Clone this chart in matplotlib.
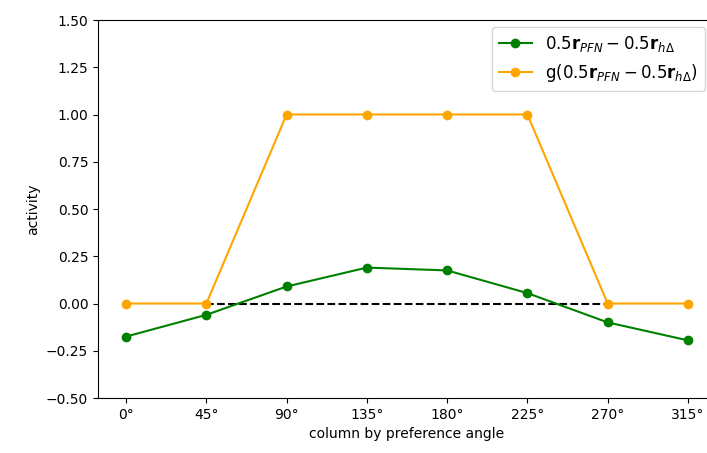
import numpy as np
import matplotlib
matplotlib.use("Agg")
import matplotlib.pyplot as plt

angles = ['0°', '45°', '90°', '135°', '180°', '225°', '270°', '315°']
diff = [-0.175, -0.06, 0.09, 0.19, 0.175, 0.055, -0.10, -0.195]
gdiff = [0, 0, 1, 1, 1, 1, 0, 0]

fig = plt.figure(figsize=(7.07, 4.53), dpi=100)
ax = fig.add_axes([98 / 707, 1 - 398 / 453, (716 - 98) / 707, (398 - 20) / 453])

x = np.arange(len(angles))
ax.plot(x[1:7], np.zeros(6), 'k--')
ax.plot(x, diff, 'o-', color='green', label=r'$0.5\mathbf{r}_{PFN} - 0.5\mathbf{r}_{h\Delta}$')
ax.plot(x, gdiff, 'o-', color='orange', label=r'g($0.5\mathbf{r}_{PFN} - 0.5\mathbf{r}_{h\Delta}$)')

ax.set_xticks(x)
ax.set_xticklabels(angles)
ax.set_ylim(-0.5, 1.5)
ax.set_yticks(np.arange(-0.5, 1.51, 0.25))
ax.set_xlabel('column by preference angle')
ax.set_ylabel('activity')
ax.legend(loc='upper right', fontsize=12, borderaxespad=0,
          bbox_to_anchor=(705 / 707, 1 - 27 / 453), bbox_transform=fig.transFigure)

fig.savefig('out.png', dpi=100)
